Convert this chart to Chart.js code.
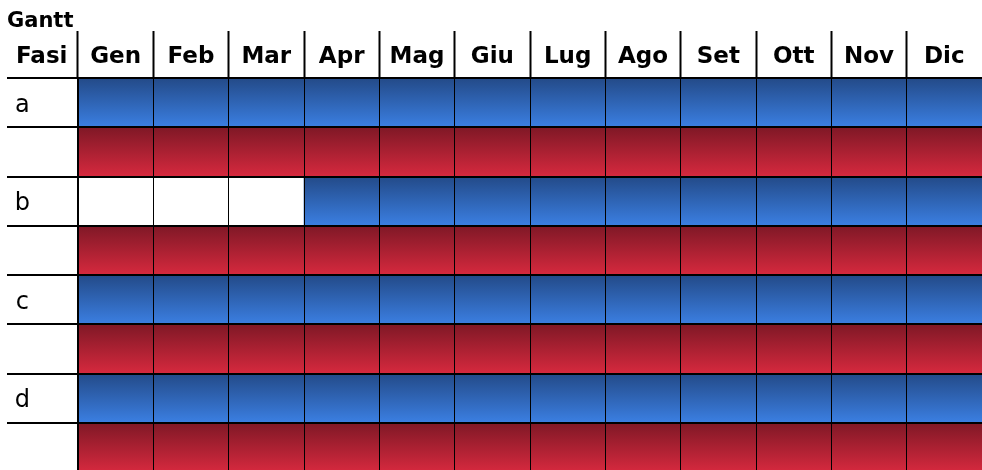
<!DOCTYPE html>
<html><head><meta charset="utf-8">
<script src="https://cdn.jsdelivr.net/npm/chart.js@4/dist/chart.umd.min.js"></script>
<style>html,body{margin:0;padding:0;background:#fff;overflow:hidden;}canvas{display:block;}</style>
</head><body>
<canvas id="c" width="982" height="472" style="width:982px;height:472px"></canvas>
<script>
const chartTitle = 'Gantt';
const columnHeader = 'Fasi';
const months = ['Gen','Feb','Mar','Apr','Mag','Giu','Lug','Ago','Set','Ott','Nov','Dic'];
const rowLabels = ['a','','b','','c','','d',''];
const rowStart = [0,0,3,0,0,0,0,0];
const rowEnd = [12,12,12,12,12,12,12,12];
const rowKind = ['blue','red','blue','red','blue','red','blue','red'];

const gradientStops = {
  blue: ['#234a88', '#3b7fe2'],
  red: ['#7f1826', '#d6293e']
};

Chart.defaults.font.family = '"DejaVu Sans", Verdana, sans-serif';
Chart.defaults.color = '#000';

const HEADER_FONT = 23;
const HEADER_PAD = -40;

const headerPlugin = {
  id: 'headerText',
  afterDraw(chart) {
    const x2 = chart.scales.x2;
    const c = chart.ctx;
    c.save();
    c.font = 'bold ' + HEADER_FONT + 'px "DejaVu Sans"';
    c.fillStyle = '#000';
    c.textAlign = 'left';
    c.textBaseline = 'middle';
    c.fillText(columnHeader, 16, x2.bottom - 47 - HEADER_PAD - HEADER_FONT * 0.6);
    c.restore();
  }
};

new Chart(document.getElementById('c'), {
  type: 'bar',
  data: {
    labels: rowLabels,
    datasets: [{
      data: rowStart.map((s, i) => [s, rowEnd[i]]),
      barPercentage: 1,
      categoryPercentage: 1,
      borderWidth: 0,
      backgroundColor: (ctx) => {
        const chart = ctx.chart;
        const y = chart.scales.y;
        const i = ctx.dataIndex;
        if (!y || i === undefined) return '#888';
        const stops = gradientStops[rowKind[i]];
        const center = y.getPixelForValue(i);
        const half = Math.abs(y.getPixelForValue(1) - y.getPixelForValue(0)) / 2;
        if (!isFinite(center) || !isFinite(half) || half <= 0) return stops[1];
        const g = chart.ctx.createLinearGradient(0, center - half, 0, center + half);
        g.addColorStop(0, stops[0]);
        g.addColorStop(1, stops[1]);
        return g;
      }
    }]
  },
  options: {
    indexAxis: 'y',
    responsive: false,
    animation: false,
    events: [],
    layout: { padding: { left: 7, right: 0, top: 0, bottom: 0 } },
    plugins: {
      legend: { display: false },
      tooltip: { enabled: false },
      title: {
        display: true,
        text: chartTitle,
        align: 'start',
        color: '#000',
        font: { size: 21, weight: 'bold' },
        padding: { top: 9, bottom: 0 }
      }
    },
    scales: {
      x: { type: 'linear', min: 0, max: 12, display: false },
      x2: {
        type: 'category',
        labels: months,
        position: 'top',
        offset: true,
        grid: {
          offset: true,
          color: (c) => c.type === 'tick' ? '#000' : 'rgba(0,0,0,0)',
          lineWidth: 1,
          tickWidth: 2,
          tickLength: 47,
          z: 1
        },
        border: { display: true, color: '#000', width: 2, z: 1 },
        ticks: {
          font: { size: HEADER_FONT, weight: 'bold' },
          color: '#000',
          padding: HEADER_PAD,
          autoSkip: false,
          maxRotation: 0
        },
        afterFit: (s) => { s.height = 43.8; }
      },
      y: {
        type: 'category',
        grid: {
          offset: true,
          color: '#000',
          lineWidth: 2,
          tickLength: 71,
          z: 1
        },
        border: { display: true, color: '#000', width: 2, z: 1 },
        ticks: {
          font: { size: 24 },
          color: '#000',
          crossAlign: 'center',
          padding: -23,
          labelOffset: 3,
          autoSkip: false
        },
        afterFit: (s) => { s.width = 71; }
      }
    }
  },
  plugins: [headerPlugin]
});
</script>
</body></html>
